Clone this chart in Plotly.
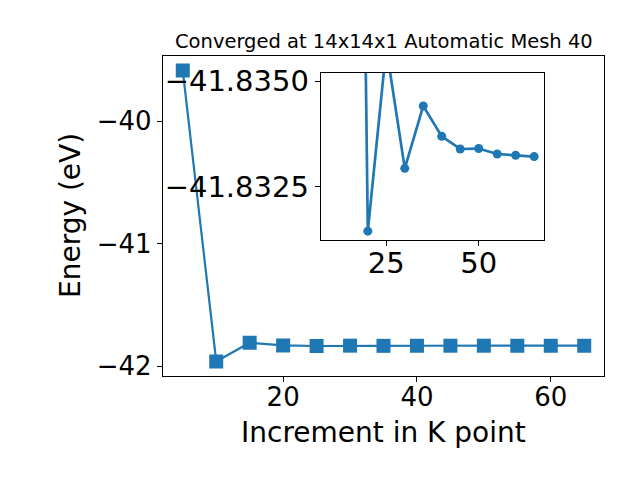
import plotly.graph_objects as go

BLUE = '#1f77b4'
FONT = 'DejaVu Sans'

# main convergence curve
k_points = [5, 10, 15, 20, 25, 30, 35, 40, 45, 50, 55, 60, 65]
energy = [-39.585, -41.962, -41.809, -41.8314, -41.8358, -41.8329, -41.8344,
          -41.8337, -41.8334, -41.8334, -41.8333, -41.8332, -41.8332]

# zoomed inset
inset_k = [10, 15, 20, 25, 30, 35, 40, 45, 50, 55, 60, 65]
inset_energy = [-41.962, -41.866, -41.83144, -41.8358, -41.83293, -41.83441,
                -41.83369, -41.83339, -41.83340, -41.83327, -41.83324, -41.83321]
inset_ylim = [-41.83123, -41.83520]  # reversed axis
inset_yticks = [-41.8350, -41.8325]
inset_xticks = [25, 50]
main_xticks = [20, 40, 60]
main_yticks = [-42, -41, -40]

# the page body adds an 8px offset, so place things in "page pixels" minus it
OFF = 8
W, H = 640, 480


def px_x(x):
    return (x - OFF) / W


def px_y(y):
    return 1 - (y - OFF) / H


def padded(vals, frac=0.05):
    lo, hi = min(vals), max(vals)
    pad = (hi - lo) * frac
    return [lo - pad, hi + pad]


fig = go.Figure()

fig.add_trace(go.Scatter(x=k_points, y=energy,
                         mode='lines+markers',
                         line=dict(color=BLUE, width=2.2),
                         marker=dict(color=BLUE, size=14, symbol='square'),
                         xaxis='x', yaxis='y'))

fig.add_trace(go.Scatter(x=inset_k, y=inset_energy,
                         mode='lines+markers',
                         line=dict(color=BLUE, width=2.7),
                         marker=dict(color=BLUE, size=9, symbol='circle'),
                         xaxis='x2', yaxis='y2'))

axis_style = dict(showline=True, mirror=True, linecolor='black', linewidth=1,
                  ticks='outside', ticklen=5, tickcolor='black',
                  showgrid=False, zeroline=False, automargin=False)

fig.update_layout(
    width=W, height=H,
    margin=dict(l=0, r=0, t=0, b=0),
    paper_bgcolor='white', plot_bgcolor='white',
    showlegend=False,
    font=dict(family=FONT, color='black'),
    xaxis=dict(domain=[px_x(162.7), px_x(604.3)], range=padded(k_points),
               tickvals=main_xticks, tickfont=dict(size=26),
               ticklabelstandoff=-7, **axis_style),
    yaxis=dict(domain=[px_y(376), px_y(56)], range=padded(energy),
               tickvals=main_yticks, tickfont=dict(size=26), **axis_style),
    xaxis2=dict(domain=[px_x(320.7), px_x(544.3)], range=padded(inset_k),
                anchor='y2', tickvals=inset_xticks, tickfont=dict(size=29),
                ticklabelstandoff=-8, **axis_style),
    yaxis2=dict(domain=[px_y(240), px_y(72.7)], range=inset_ylim,
                anchor='x2', tickvals=inset_yticks, tickformat='.4f',
                tickfont=dict(size=29), **axis_style),
)

# title and axis labels
fig.add_annotation(text='Converged at 14x14x1 Automatic Mesh 40',
                   xref='paper', yref='paper', x=px_x(383.5), y=px_y(42),
                   xanchor='center', yanchor='middle', showarrow=False,
                   font=dict(size=19.5))
fig.add_annotation(text='Increment in K point',
                   xref='paper', yref='paper', x=px_x(383.5), y=px_y(432),
                   xanchor='center', yanchor='middle', showarrow=False,
                   font=dict(size=28))
fig.add_annotation(text='Energy (eV)', textangle=-90,
                   xref='paper', yref='paper', x=px_x(70), y=px_y(216),
                   xanchor='center', yanchor='middle', showarrow=False,
                   font=dict(size=28))

fig.write_html('out.html')
